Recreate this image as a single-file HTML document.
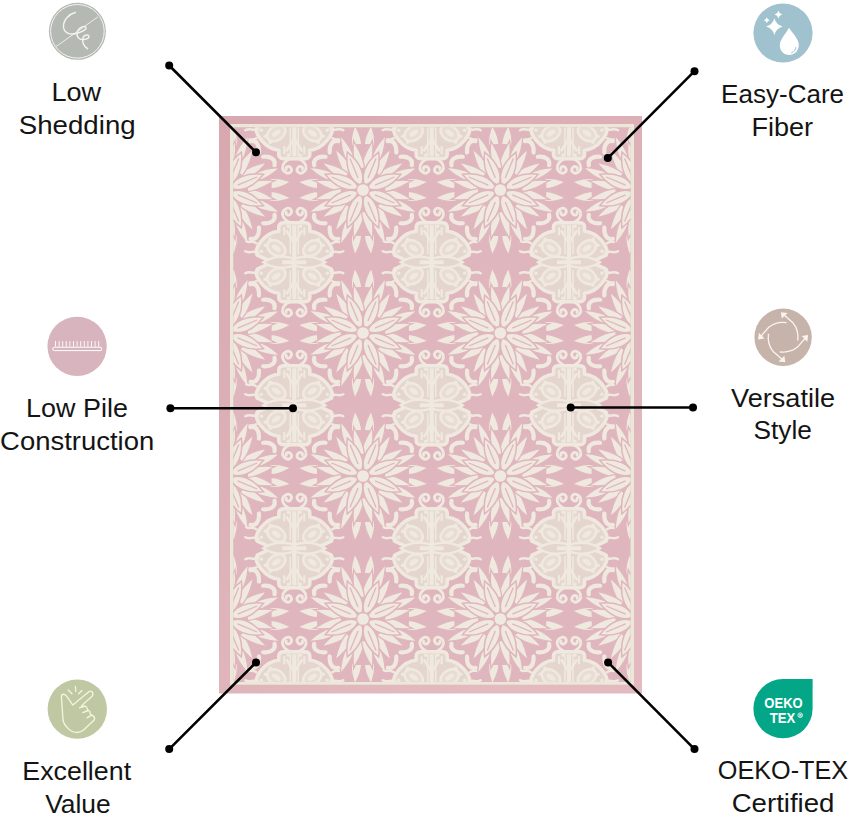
<!DOCTYPE html>
<html><head><meta charset="utf-8"><style>
html,body{margin:0;padding:0;background:#fff;width:850px;height:816px;overflow:hidden}
.rug{position:absolute;left:219px;top:116px}
.ov{position:absolute;left:0;top:0}
text{font-family:"Liberation Sans",sans-serif}
</style></head><body>
<svg class="rug" width="423" height="577.5" viewBox="0 0 423 577.5"><defs><g id="fl"><path d="M-5.00,-45.00 C-5.80,-55.50 -2.20,-61.00 -1.00,-66.00 C0.50,-61.00 5.60,-55.50 5.00,-45.00 Q0,-46.50 -5.00,-45.00Z" transform="rotate(8) scale(1,1)" fill="#efe9df" stroke="#e0b6be" stroke-width="1.2"/><path d="M-4.75,-21.00 C-5.55,-35.50 0.80,-45.00 2.00,-50.00 C3.50,-45.00 5.35,-35.50 4.75,-21.00 Q0,-22.50 -4.75,-21.00Z" transform="rotate(8.5) scale(1,1)" fill="#efe9df" stroke="#e0b6be" stroke-width="1.3"/><path d="M-5.00,-45.00 C-5.80,-55.50 -2.20,-61.00 -1.00,-66.00 C0.50,-61.00 5.60,-55.50 5.00,-45.00 Q0,-46.50 -5.00,-45.00Z" transform="rotate(-8) scale(-1,1)" fill="#efe9df" stroke="#e0b6be" stroke-width="1.2"/><path d="M-4.75,-21.00 C-5.55,-35.50 0.80,-45.00 2.00,-50.00 C3.50,-45.00 5.35,-35.50 4.75,-21.00 Q0,-22.50 -4.75,-21.00Z" transform="rotate(-8.5) scale(-1,1)" fill="#efe9df" stroke="#e0b6be" stroke-width="1.3"/><path d="M-4.25,-35.00 C-5.05,-47.00 -1.20,-54.00 0.00,-59.00 C1.50,-54.00 4.85,-47.00 4.25,-35.00 Q0,-36.50 -4.25,-35.00Z" transform="rotate(22.5)" fill="#efe9df" stroke="#e0b6be" stroke-width="1.2"/><path d="M3,-50 C8,-56 14,-57 17,-52" transform="rotate(45) scale(1,1)" fill="none" stroke="#efe9df" stroke-width="4.2" stroke-linecap="round"/><path d="M-4.75,-21.00 C-5.55,-35.50 0.80,-45.00 2.00,-50.00 C3.50,-45.00 5.35,-35.50 4.75,-21.00 Q0,-22.50 -4.75,-21.00Z" transform="rotate(53.5) scale(1,1)" fill="#efe9df" stroke="#e0b6be" stroke-width="1.3"/><path d="M3,-50 C8,-56 14,-57 17,-52" transform="rotate(45) scale(-1,1)" fill="none" stroke="#efe9df" stroke-width="4.2" stroke-linecap="round"/><path d="M-4.75,-21.00 C-5.55,-35.50 0.80,-45.00 2.00,-50.00 C3.50,-45.00 5.35,-35.50 4.75,-21.00 Q0,-22.50 -4.75,-21.00Z" transform="rotate(36.5) scale(-1,1)" fill="#efe9df" stroke="#e0b6be" stroke-width="1.3"/><path d="M-4.25,-35.00 C-5.05,-47.00 -1.20,-54.00 0.00,-59.00 C1.50,-54.00 4.85,-47.00 4.25,-35.00 Q0,-36.50 -4.25,-35.00Z" transform="rotate(67.5)" fill="#efe9df" stroke="#e0b6be" stroke-width="1.2"/><path d="M-5.00,-45.00 C-5.80,-55.50 -2.20,-61.00 -1.00,-66.00 C0.50,-61.00 5.60,-55.50 5.00,-45.00 Q0,-46.50 -5.00,-45.00Z" transform="rotate(98) scale(1,1)" fill="#efe9df" stroke="#e0b6be" stroke-width="1.2"/><path d="M-4.75,-21.00 C-5.55,-35.50 0.80,-45.00 2.00,-50.00 C3.50,-45.00 5.35,-35.50 4.75,-21.00 Q0,-22.50 -4.75,-21.00Z" transform="rotate(98.5) scale(1,1)" fill="#efe9df" stroke="#e0b6be" stroke-width="1.3"/><path d="M-5.00,-45.00 C-5.80,-55.50 -2.20,-61.00 -1.00,-66.00 C0.50,-61.00 5.60,-55.50 5.00,-45.00 Q0,-46.50 -5.00,-45.00Z" transform="rotate(82) scale(-1,1)" fill="#efe9df" stroke="#e0b6be" stroke-width="1.2"/><path d="M-4.75,-21.00 C-5.55,-35.50 0.80,-45.00 2.00,-50.00 C3.50,-45.00 5.35,-35.50 4.75,-21.00 Q0,-22.50 -4.75,-21.00Z" transform="rotate(81.5) scale(-1,1)" fill="#efe9df" stroke="#e0b6be" stroke-width="1.3"/><path d="M-4.25,-35.00 C-5.05,-47.00 -1.20,-54.00 0.00,-59.00 C1.50,-54.00 4.85,-47.00 4.25,-35.00 Q0,-36.50 -4.25,-35.00Z" transform="rotate(112.5)" fill="#efe9df" stroke="#e0b6be" stroke-width="1.2"/><path d="M3,-50 C8,-56 14,-57 17,-52" transform="rotate(135) scale(1,1)" fill="none" stroke="#efe9df" stroke-width="4.2" stroke-linecap="round"/><path d="M-4.75,-21.00 C-5.55,-35.50 0.80,-45.00 2.00,-50.00 C3.50,-45.00 5.35,-35.50 4.75,-21.00 Q0,-22.50 -4.75,-21.00Z" transform="rotate(143.5) scale(1,1)" fill="#efe9df" stroke="#e0b6be" stroke-width="1.3"/><path d="M3,-50 C8,-56 14,-57 17,-52" transform="rotate(135) scale(-1,1)" fill="none" stroke="#efe9df" stroke-width="4.2" stroke-linecap="round"/><path d="M-4.75,-21.00 C-5.55,-35.50 0.80,-45.00 2.00,-50.00 C3.50,-45.00 5.35,-35.50 4.75,-21.00 Q0,-22.50 -4.75,-21.00Z" transform="rotate(126.5) scale(-1,1)" fill="#efe9df" stroke="#e0b6be" stroke-width="1.3"/><path d="M-4.25,-35.00 C-5.05,-47.00 -1.20,-54.00 0.00,-59.00 C1.50,-54.00 4.85,-47.00 4.25,-35.00 Q0,-36.50 -4.25,-35.00Z" transform="rotate(157.5)" fill="#efe9df" stroke="#e0b6be" stroke-width="1.2"/><path d="M-5.00,-45.00 C-5.80,-55.50 -2.20,-61.00 -1.00,-66.00 C0.50,-61.00 5.60,-55.50 5.00,-45.00 Q0,-46.50 -5.00,-45.00Z" transform="rotate(188) scale(1,1)" fill="#efe9df" stroke="#e0b6be" stroke-width="1.2"/><path d="M-4.75,-21.00 C-5.55,-35.50 0.80,-45.00 2.00,-50.00 C3.50,-45.00 5.35,-35.50 4.75,-21.00 Q0,-22.50 -4.75,-21.00Z" transform="rotate(188.5) scale(1,1)" fill="#efe9df" stroke="#e0b6be" stroke-width="1.3"/><path d="M-5.00,-45.00 C-5.80,-55.50 -2.20,-61.00 -1.00,-66.00 C0.50,-61.00 5.60,-55.50 5.00,-45.00 Q0,-46.50 -5.00,-45.00Z" transform="rotate(172) scale(-1,1)" fill="#efe9df" stroke="#e0b6be" stroke-width="1.2"/><path d="M-4.75,-21.00 C-5.55,-35.50 0.80,-45.00 2.00,-50.00 C3.50,-45.00 5.35,-35.50 4.75,-21.00 Q0,-22.50 -4.75,-21.00Z" transform="rotate(171.5) scale(-1,1)" fill="#efe9df" stroke="#e0b6be" stroke-width="1.3"/><path d="M-4.25,-35.00 C-5.05,-47.00 -1.20,-54.00 0.00,-59.00 C1.50,-54.00 4.85,-47.00 4.25,-35.00 Q0,-36.50 -4.25,-35.00Z" transform="rotate(202.5)" fill="#efe9df" stroke="#e0b6be" stroke-width="1.2"/><path d="M3,-50 C8,-56 14,-57 17,-52" transform="rotate(225) scale(1,1)" fill="none" stroke="#efe9df" stroke-width="4.2" stroke-linecap="round"/><path d="M-4.75,-21.00 C-5.55,-35.50 0.80,-45.00 2.00,-50.00 C3.50,-45.00 5.35,-35.50 4.75,-21.00 Q0,-22.50 -4.75,-21.00Z" transform="rotate(233.5) scale(1,1)" fill="#efe9df" stroke="#e0b6be" stroke-width="1.3"/><path d="M3,-50 C8,-56 14,-57 17,-52" transform="rotate(225) scale(-1,1)" fill="none" stroke="#efe9df" stroke-width="4.2" stroke-linecap="round"/><path d="M-4.75,-21.00 C-5.55,-35.50 0.80,-45.00 2.00,-50.00 C3.50,-45.00 5.35,-35.50 4.75,-21.00 Q0,-22.50 -4.75,-21.00Z" transform="rotate(216.5) scale(-1,1)" fill="#efe9df" stroke="#e0b6be" stroke-width="1.3"/><path d="M-4.25,-35.00 C-5.05,-47.00 -1.20,-54.00 0.00,-59.00 C1.50,-54.00 4.85,-47.00 4.25,-35.00 Q0,-36.50 -4.25,-35.00Z" transform="rotate(247.5)" fill="#efe9df" stroke="#e0b6be" stroke-width="1.2"/><path d="M-5.00,-45.00 C-5.80,-55.50 -2.20,-61.00 -1.00,-66.00 C0.50,-61.00 5.60,-55.50 5.00,-45.00 Q0,-46.50 -5.00,-45.00Z" transform="rotate(278) scale(1,1)" fill="#efe9df" stroke="#e0b6be" stroke-width="1.2"/><path d="M-4.75,-21.00 C-5.55,-35.50 0.80,-45.00 2.00,-50.00 C3.50,-45.00 5.35,-35.50 4.75,-21.00 Q0,-22.50 -4.75,-21.00Z" transform="rotate(278.5) scale(1,1)" fill="#efe9df" stroke="#e0b6be" stroke-width="1.3"/><path d="M-5.00,-45.00 C-5.80,-55.50 -2.20,-61.00 -1.00,-66.00 C0.50,-61.00 5.60,-55.50 5.00,-45.00 Q0,-46.50 -5.00,-45.00Z" transform="rotate(262) scale(-1,1)" fill="#efe9df" stroke="#e0b6be" stroke-width="1.2"/><path d="M-4.75,-21.00 C-5.55,-35.50 0.80,-45.00 2.00,-50.00 C3.50,-45.00 5.35,-35.50 4.75,-21.00 Q0,-22.50 -4.75,-21.00Z" transform="rotate(261.5) scale(-1,1)" fill="#efe9df" stroke="#e0b6be" stroke-width="1.3"/><path d="M-4.25,-35.00 C-5.05,-47.00 -1.20,-54.00 0.00,-59.00 C1.50,-54.00 4.85,-47.00 4.25,-35.00 Q0,-36.50 -4.25,-35.00Z" transform="rotate(292.5)" fill="#efe9df" stroke="#e0b6be" stroke-width="1.2"/><path d="M3,-50 C8,-56 14,-57 17,-52" transform="rotate(315) scale(1,1)" fill="none" stroke="#efe9df" stroke-width="4.2" stroke-linecap="round"/><path d="M-4.75,-21.00 C-5.55,-35.50 0.80,-45.00 2.00,-50.00 C3.50,-45.00 5.35,-35.50 4.75,-21.00 Q0,-22.50 -4.75,-21.00Z" transform="rotate(323.5) scale(1,1)" fill="#efe9df" stroke="#e0b6be" stroke-width="1.3"/><path d="M3,-50 C8,-56 14,-57 17,-52" transform="rotate(315) scale(-1,1)" fill="none" stroke="#efe9df" stroke-width="4.2" stroke-linecap="round"/><path d="M-4.75,-21.00 C-5.55,-35.50 0.80,-45.00 2.00,-50.00 C3.50,-45.00 5.35,-35.50 4.75,-21.00 Q0,-22.50 -4.75,-21.00Z" transform="rotate(306.5) scale(-1,1)" fill="#efe9df" stroke="#e0b6be" stroke-width="1.3"/><path d="M-4.25,-35.00 C-5.05,-47.00 -1.20,-54.00 0.00,-59.00 C1.50,-54.00 4.85,-47.00 4.25,-35.00 Q0,-36.50 -4.25,-35.00Z" transform="rotate(337.5)" fill="#efe9df" stroke="#e0b6be" stroke-width="1.2"/><path d="M0,-5 C8,-12 8.5,-26 0,-41 C-8.5,-26 -8,-12 0,-5Z" transform="rotate(22.5)" fill="#efe9df" stroke="#e0b6be" stroke-width="1.5"/><path d="M0,-13 L0,-34" transform="rotate(22.5)" stroke="#e0b6be" stroke-width="1.3"/><path d="M0,-5 C8,-12 8.5,-26 0,-41 C-8.5,-26 -8,-12 0,-5Z" transform="rotate(67.5)" fill="#efe9df" stroke="#e0b6be" stroke-width="1.5"/><path d="M0,-13 L0,-34" transform="rotate(67.5)" stroke="#e0b6be" stroke-width="1.3"/><path d="M0,-5 C8,-12 8.5,-26 0,-41 C-8.5,-26 -8,-12 0,-5Z" transform="rotate(112.5)" fill="#efe9df" stroke="#e0b6be" stroke-width="1.5"/><path d="M0,-13 L0,-34" transform="rotate(112.5)" stroke="#e0b6be" stroke-width="1.3"/><path d="M0,-5 C8,-12 8.5,-26 0,-41 C-8.5,-26 -8,-12 0,-5Z" transform="rotate(157.5)" fill="#efe9df" stroke="#e0b6be" stroke-width="1.5"/><path d="M0,-13 L0,-34" transform="rotate(157.5)" stroke="#e0b6be" stroke-width="1.3"/><path d="M0,-5 C8,-12 8.5,-26 0,-41 C-8.5,-26 -8,-12 0,-5Z" transform="rotate(202.5)" fill="#efe9df" stroke="#e0b6be" stroke-width="1.5"/><path d="M0,-13 L0,-34" transform="rotate(202.5)" stroke="#e0b6be" stroke-width="1.3"/><path d="M0,-5 C8,-12 8.5,-26 0,-41 C-8.5,-26 -8,-12 0,-5Z" transform="rotate(247.5)" fill="#efe9df" stroke="#e0b6be" stroke-width="1.5"/><path d="M0,-13 L0,-34" transform="rotate(247.5)" stroke="#e0b6be" stroke-width="1.3"/><path d="M0,-5 C8,-12 8.5,-26 0,-41 C-8.5,-26 -8,-12 0,-5Z" transform="rotate(292.5)" fill="#efe9df" stroke="#e0b6be" stroke-width="1.5"/><path d="M0,-13 L0,-34" transform="rotate(292.5)" stroke="#e0b6be" stroke-width="1.3"/><path d="M0,-5 C8,-12 8.5,-26 0,-41 C-8.5,-26 -8,-12 0,-5Z" transform="rotate(337.5)" fill="#efe9df" stroke="#e0b6be" stroke-width="1.5"/><path d="M0,-13 L0,-34" transform="rotate(337.5)" stroke="#e0b6be" stroke-width="1.3"/><circle r="6.5" fill="#efe9df" stroke="#e0b6be" stroke-width="1.3"/></g><g id="or"><path d="M0,-39.5 L11,-39.5 C14,-39.5 15.5,-37.5 15.5,-35 L15.5,-31 C22,-30.5 28,-27 33,-21 C37,-16 39.5,-11 37,-7 L22,0 L37,7 C39.5,11 37,16 33,21 C28,27 22,30.5 15.5,31 L15.5,35 C15.5,37.5 14,39.5 11,39.5 L-11,39.5 C-14,39.5 -15.5,37.5 -15.5,35 L-15.5,31 C-22,30.5 -28,27 -33,21 C-37,16 -39.5,11 -37,7 L-22,0 L-37,-7 C-39.5,-11 -37,-16 -33,-21 C-28,-27 -22,-30.5 -15.5,-31 L-15.5,-35 C-15.5,-37.5 -14,-39.5 -11,-39.5 Z" fill="#e4d5cf" stroke="#efe9df" stroke-width="3.6" stroke-linejoin="round"/><path d="M-10,-35 L-10,-27 M10,-35 L10,-27 M-10,35 L-10,27 M10,35 L10,27" stroke="#efe9df" stroke-width="2.2"/><ellipse cx="-18" cy="-14" rx="10" ry="7" transform="rotate(35 -18 -14)" fill="#e8dcd5" stroke="#efe9df" stroke-width="2.6"/><ellipse cx="-18" cy="-14" rx="5" ry="2.6" transform="rotate(35 -18 -14)" fill="#efe9df"/><ellipse cx="18" cy="-14" rx="10" ry="7" transform="rotate(-35 18 -14)" fill="#e8dcd5" stroke="#efe9df" stroke-width="2.6"/><ellipse cx="18" cy="-14" rx="5" ry="2.6" transform="rotate(-35 18 -14)" fill="#efe9df"/><ellipse cx="-18" cy="14" rx="10" ry="7" transform="rotate(-35 -18 14)" fill="#e8dcd5" stroke="#efe9df" stroke-width="2.6"/><ellipse cx="-18" cy="14" rx="5" ry="2.6" transform="rotate(-35 -18 14)" fill="#efe9df"/><ellipse cx="18" cy="14" rx="10" ry="7" transform="rotate(35 18 14)" fill="#e8dcd5" stroke="#efe9df" stroke-width="2.6"/><ellipse cx="18" cy="14" rx="5" ry="2.6" transform="rotate(35 18 14)" fill="#efe9df"/><path d="M-31,0 C-20,-7 -8,-6 0,-3.5 C8,-6 20,-7 31,0 C20,7 8,6 0,3.5 C-8,6 -20,7 -31,0Z" fill="#e4d5cf" stroke="#efe9df" stroke-width="2.4"/><path d="M-12,0 L12,0" stroke="#efe9df" stroke-width="4"/><path d="M0,-37 L0,37" stroke="#efe9df" stroke-width="4.2"/><path d="M-4,-37 L-4,-8 M4,-37 L4,-8 M-4,37 L-4,8 M4,37 L4,8" stroke="#efe9df" stroke-width="1.6"/><path d="M-8,-32 L0,-19 L8,-32 M-8,32 L0,19 L8,32" fill="none" stroke="#efe9df" stroke-width="2.6"/><circle cx="-29" cy="-17" r="1.8" fill="#efe9df"/><circle cx="-24" cy="-23" r="1.8" fill="#efe9df"/><circle cx="-33" cy="-11" r="1.8" fill="#efe9df"/><circle cx="29" cy="-17" r="1.8" fill="#efe9df"/><circle cx="24" cy="-23" r="1.8" fill="#efe9df"/><circle cx="33" cy="-11" r="1.8" fill="#efe9df"/><circle cx="-29" cy="17" r="1.8" fill="#efe9df"/><circle cx="-24" cy="23" r="1.8" fill="#efe9df"/><circle cx="-33" cy="11" r="1.8" fill="#efe9df"/><circle cx="29" cy="17" r="1.8" fill="#efe9df"/><circle cx="24" cy="23" r="1.8" fill="#efe9df"/><circle cx="33" cy="11" r="1.8" fill="#efe9df"/><circle cx="-6" cy="-36" r="1.8" fill="#efe9df"/><circle cx="6" cy="-36" r="1.8" fill="#efe9df"/><circle cx="-6" cy="36" r="1.8" fill="#efe9df"/><circle cx="6" cy="36" r="1.8" fill="#efe9df"/><path d="M-5,-40 C-12,-43 -14,-50 -9,-53 C-4,-56 -1,-51 -4,-48 C-6,-46 -9,-48 -8,-50 M5,-40 C12,-43 14,-50 9,-53 C4,-56 1,-51 4,-48 C6,-46 9,-48 8,-50" transform="rotate(0)" stroke="#efe9df" stroke-width="2.8" fill="none" stroke-linecap="round"/><path d="M-5,-40 C-12,-43 -14,-50 -9,-53 C-4,-56 -1,-51 -4,-48 C-6,-46 -9,-48 -8,-50 M5,-40 C12,-43 14,-50 9,-53 C4,-56 1,-51 4,-48 C6,-46 9,-48 8,-50" transform="rotate(180)" stroke="#efe9df" stroke-width="2.8" fill="none" stroke-linecap="round"/><path d="M-36,-9 C-40,-13 -44,-8 -49,-11 M-36,9 C-40,13 -44,8 -49,11 M-38,-19 C-42,-22 -45,-19 -48,-21 M-38,19 C-42,22 -45,19 -48,21" transform="rotate(0)" stroke="#efe9df" stroke-width="2.5" fill="none" stroke-linecap="round"/><path d="M-36,-9 C-40,-13 -44,-8 -49,-11 M-36,9 C-40,13 -44,8 -49,11 M-38,-19 C-42,-22 -45,-19 -48,-21 M-38,19 C-42,22 -45,19 -48,21" transform="rotate(180)" stroke="#efe9df" stroke-width="2.5" fill="none" stroke-linecap="round"/></g><linearGradient id="bg" x1="0" y1="0" x2="0.6" y2="1"><stop offset="0" stop-color="#d8a8b0"/><stop offset="1" stop-color="#e2bac0"/></linearGradient><clipPath id="fc"><rect x="14.3" y="11.3" width="397.2" height="554.7"/></clipPath><filter id="soft" x="0" y="0" width="1" height="1"><feGaussianBlur stdDeviation="0.6"/></filter></defs><g filter="url(#soft)"><rect width="423" height="577.5" fill="url(#bg)"/><rect x="11" y="8" width="404" height="560.7" fill="#ebe8da"/><rect x="14.3" y="11.3" width="397.2" height="554.7" fill="#e0b6be"/><g clip-path="url(#fc)"><use href="#fl" x="-130.6" y="-69.0"/><use href="#or" x="-62.0" y="3.2"/><use href="#fl" x="6.7" y="-69.0"/><use href="#or" x="75.3" y="3.2"/><use href="#fl" x="144.0" y="-69.0"/><use href="#or" x="212.7" y="3.2"/><use href="#fl" x="281.3" y="-69.0"/><use href="#or" x="350.0" y="3.2"/><use href="#fl" x="418.6" y="-69.0"/><use href="#or" x="487.2" y="3.2"/><use href="#fl" x="555.9" y="-69.0"/><use href="#or" x="624.6" y="3.2"/><use href="#fl" x="-130.6" y="74.0"/><use href="#or" x="-62.0" y="146.2"/><use href="#fl" x="6.7" y="74.0"/><use href="#or" x="75.3" y="146.2"/><use href="#fl" x="144.0" y="74.0"/><use href="#or" x="212.7" y="146.2"/><use href="#fl" x="281.3" y="74.0"/><use href="#or" x="350.0" y="146.2"/><use href="#fl" x="418.6" y="74.0"/><use href="#or" x="487.2" y="146.2"/><use href="#fl" x="555.9" y="74.0"/><use href="#or" x="624.6" y="146.2"/><use href="#fl" x="-130.6" y="217.0"/><use href="#or" x="-62.0" y="289.2"/><use href="#fl" x="6.7" y="217.0"/><use href="#or" x="75.3" y="289.2"/><use href="#fl" x="144.0" y="217.0"/><use href="#or" x="212.7" y="289.2"/><use href="#fl" x="281.3" y="217.0"/><use href="#or" x="350.0" y="289.2"/><use href="#fl" x="418.6" y="217.0"/><use href="#or" x="487.2" y="289.2"/><use href="#fl" x="555.9" y="217.0"/><use href="#or" x="624.6" y="289.2"/><use href="#fl" x="-130.6" y="360.0"/><use href="#or" x="-62.0" y="432.2"/><use href="#fl" x="6.7" y="360.0"/><use href="#or" x="75.3" y="432.2"/><use href="#fl" x="144.0" y="360.0"/><use href="#or" x="212.7" y="432.2"/><use href="#fl" x="281.3" y="360.0"/><use href="#or" x="350.0" y="432.2"/><use href="#fl" x="418.6" y="360.0"/><use href="#or" x="487.2" y="432.2"/><use href="#fl" x="555.9" y="360.0"/><use href="#or" x="624.6" y="432.2"/><use href="#fl" x="-130.6" y="503.0"/><use href="#or" x="-62.0" y="575.2"/><use href="#fl" x="6.7" y="503.0"/><use href="#or" x="75.3" y="575.2"/><use href="#fl" x="144.0" y="503.0"/><use href="#or" x="212.7" y="575.2"/><use href="#fl" x="281.3" y="503.0"/><use href="#or" x="350.0" y="575.2"/><use href="#fl" x="418.6" y="503.0"/><use href="#or" x="487.2" y="575.2"/><use href="#fl" x="555.9" y="503.0"/><use href="#or" x="624.6" y="575.2"/><use href="#fl" x="-130.6" y="646.0"/><use href="#or" x="-62.0" y="718.2"/><use href="#fl" x="6.7" y="646.0"/><use href="#or" x="75.3" y="718.2"/><use href="#fl" x="144.0" y="646.0"/><use href="#or" x="212.7" y="718.2"/><use href="#fl" x="281.3" y="646.0"/><use href="#or" x="350.0" y="718.2"/><use href="#fl" x="418.6" y="646.0"/><use href="#or" x="487.2" y="718.2"/><use href="#fl" x="555.9" y="646.0"/><use href="#or" x="624.6" y="718.2"/><use href="#fl" x="-130.6" y="789.0"/><use href="#or" x="-62.0" y="861.2"/><use href="#fl" x="6.7" y="789.0"/><use href="#or" x="75.3" y="861.2"/><use href="#fl" x="144.0" y="789.0"/><use href="#or" x="212.7" y="861.2"/><use href="#fl" x="281.3" y="789.0"/><use href="#or" x="350.0" y="861.2"/><use href="#fl" x="418.6" y="789.0"/><use href="#or" x="487.2" y="861.2"/><use href="#fl" x="555.9" y="789.0"/><use href="#or" x="624.6" y="861.2"/></g></g></svg>
<svg class="ov" width="850" height="816" viewBox="0 0 850 816">
<circle cx="77.4" cy="31.3" r="28.5" fill="#b5b9b4"/>
<circle cx="77.4" cy="31.3" r="26.8" fill="none" stroke="#f4f4f0" stroke-width="1"/>
<path d="M56,46.6 L97.9,16.9" stroke="#f4f4f0" stroke-width="0.9"/>
<path d="M75.8,12.3 C69,14 63,20 63.5,27 C64,33 70,35 76,33.5 C82,32 88,29 85.6,27 C83,25 77,29 77,34 C77,38 80,40 84,39.5 C90,39 90,35 87,35 C83,35 82,39 83,43 C84,46 86,48 88,49" fill="none" stroke="#f4f4f0" stroke-width="1.4"/>
<circle cx="783" cy="33" r="29.6" fill="#a0c1ce"/>
<path d="M789,27.8 C793,34 799,39 798.8,45.5 C798.5,51.5 794,55 789.3,55 C784,55 779.8,51 779.8,45.5 C779.8,39 786,34 789,27.8Z" fill="#fff"/>
<path d="M795.8,47.5 C795.6,50 794,52 791.5,52.8" fill="none" stroke="#a0c1ce" stroke-width="0.9" stroke-linecap="round"/>
<path d="M774.4,18.3 Q776.226,24.774 782.6999999999999,26.6 Q776.226,28.426000000000002 774.4,34.900000000000006 Q772.574,28.426000000000002 766.1,26.6 Q772.574,24.774 774.4,18.3Z" fill="#fff"/>
<path d="M778.4,10.8 Q779.236,13.764 782.1999999999999,14.6 Q779.236,15.436 778.4,18.4 Q777.564,15.436 774.6,14.6 Q777.564,13.764 778.4,10.8Z" fill="#fff"/>
<path d="M766.8,17.2 Q767.4599999999999,19.54 769.8,20.2 Q767.4599999999999,20.86 766.8,23.2 Q766.14,20.86 763.8,20.2 Q766.14,19.54 766.8,17.2Z" fill="#fff"/>
<circle cx="77.1" cy="346.3" r="29.65" fill="#d7b4be"/>
<rect x="52.7" y="347.2" width="49" height="3.4" rx="1.7" fill="none" stroke="#fff" stroke-width="1"/>
<path d="M55.5,341 L55.5,346.6 M59.1,341 L59.1,346.6 M62.7,341 L62.7,346.6 M66.3,341 L66.3,346.6 M69.9,341 L69.9,346.6 M73.5,341 L73.5,346.6 M77.1,341 L77.1,346.6 M80.7,341 L80.7,346.6 M84.3,341 L84.3,346.6 M87.9,341 L87.9,346.6 M91.5,341 L91.5,346.6 M95.1,341 L95.1,346.6 M98.7,341 L98.7,346.6 " stroke="#fff" stroke-width="0.9"/>
<circle cx="783.1" cy="337.2" r="28.7" fill="#c6b4aa"/>
<g transform="translate(783.1,337.2) rotate(0)"><path d="M3.4,-14.6 C-3,-15.5 -10,-13.5 -14.4,-9.9 L-23,0" fill="none" stroke="#fbf3ee" stroke-width="1.3"/><path d="M-25,2.2 L-24.2,-4.5 L-18.6,1.3Z" fill="#fbf3ee"/></g>
<g transform="translate(783.1,337.2) rotate(-90)"><path d="M3.4,-14.6 C-3,-15.5 -10,-13.5 -14.4,-9.9 L-23,0" fill="none" stroke="#fbf3ee" stroke-width="1.3"/><path d="M-25,2.2 L-24.2,-4.5 L-18.6,1.3Z" fill="#fbf3ee"/></g>
<g transform="translate(783.1,337.2) rotate(-180)"><path d="M3.4,-14.6 C-3,-15.5 -10,-13.5 -14.4,-9.9 L-23,0" fill="none" stroke="#fbf3ee" stroke-width="1.3"/><path d="M-25,2.2 L-24.2,-4.5 L-18.6,1.3Z" fill="#fbf3ee"/></g>
<g transform="translate(783.1,337.2) rotate(-270)"><path d="M3.4,-14.6 C-3,-15.5 -10,-13.5 -14.4,-9.9 L-23,0" fill="none" stroke="#fbf3ee" stroke-width="1.3"/><path d="M-25,2.2 L-24.2,-4.5 L-18.6,1.3Z" fill="#fbf3ee"/></g>
<circle cx="77.3" cy="709.1" r="29.7" fill="#c0c7a3"/>
<path d="M63.05,720.2 C62.5,712 62,704 61.5,698 C61,695.5 62,694.2 63.3,694.2 C64.5,694.2 65.5,694.8 66.2,695.6 L72.9,705.1 L88.5,691.9 C89.5,691.1 91,691 91.9,691.7 C92.9,692.6 93,694.8 92.2,696.2 L84.2,703.2 L81.4,706.1 L85.2,706.2 C86.5,706.6 87.3,708 87.6,709.8 L88.8,710.6 C89.8,711.5 90.3,712.8 90.2,714 L92.8,715.6 C94.4,716.8 95,718.2 94.4,719.8 L84.2,729.6 C82,731.5 80,732.4 77.5,732.5 C74,732.5 70.5,731 68.2,728.6 C65.5,726 63.5,723.5 63.05,720.2 Z M79.5,707.8 L85.2,706.2 M82.8,712.6 L88.2,710.5 M87,717.8 L91.5,715.2" fill="none" stroke="#f3f6d6" stroke-width="1.35" stroke-linejoin="round" stroke-linecap="round"/>
<path d="M75.3,686.3 L75.8,691.5 M68.2,690 L72,693.8 M82,690.5 L78.6,693.8" stroke="#f3f6d6" stroke-width="1.3" stroke-linecap="round"/>
<path d="M812.6,679.1 L812.6,708.7 A29.6,29.6 0 1 1 783,679.1 Z" fill="#04a688"/>
<text x="783.5" y="708.2" font-weight="bold" font-size="14.2" fill="#fff" text-anchor="middle" textLength="38.3" lengthAdjust="spacingAndGlyphs">OEKO</text>
<text x="782.5" y="722.8" font-weight="bold" font-size="14.2" fill="#fff" text-anchor="middle" textLength="25.6" lengthAdjust="spacingAndGlyphs">TEX</text>
<circle cx="800.2" cy="715.2" r="2.3" fill="none" stroke="#fff" stroke-width="0.8"/>
<text x="800.2" y="716.6" font-weight="bold" font-size="3.6" fill="#fff" text-anchor="middle">R</text>
<g font-size="25.0" fill="#141414">
<text x="70.40" y="101.30" transform="scale(1.0834,1)" text-anchor="middle">Low</text>
<text x="69.78" y="133.90" transform="scale(1.1066,1)" text-anchor="middle">Shedding</text>
<text x="751.27" y="103.30" transform="scale(1.0417,1)" text-anchor="middle">Easy-Care</text>
<text x="722.21" y="136.30" transform="scale(1.0831,1)" text-anchor="middle">Fiber</text>
<text x="71.47" y="416.90" transform="scale(1.0773,1)" text-anchor="middle">Low Pile</text>
<text x="70.28" y="449.80" transform="scale(1.0982,1)" text-anchor="middle">Construction</text>
<text x="721.96" y="406.60" transform="scale(1.0847,1)" text-anchor="middle">Versatile</text>
<text x="744.27" y="439.20" transform="scale(1.0516,1)" text-anchor="middle">Style</text>
<text x="71.50" y="779.60" transform="scale(1.0730,1)" text-anchor="middle">Excellent</text>
<text x="73.75" y="812.60" transform="scale(1.0568,1)" text-anchor="middle">Value</text>
<text x="776.00" y="779.30" transform="scale(1.0090,1)" text-anchor="middle">OEKO-TEX</text>
<text x="708.86" y="811.80" transform="scale(1.1047,1)" text-anchor="middle">Certified</text>
</g>
<line x1="169.2" y1="65.5" x2="256" y2="152.3" stroke="#000" stroke-width="2.6"/>
<circle cx="169.2" cy="65.5" r="4" fill="#000"/><circle cx="256" cy="152.3" r="4" fill="#000"/>
<line x1="694.5" y1="71.2" x2="607.8" y2="158.1" stroke="#000" stroke-width="2.6"/>
<circle cx="694.5" cy="71.2" r="4" fill="#000"/><circle cx="607.8" cy="158.1" r="4" fill="#000"/>
<line x1="170.4" y1="408.3" x2="293" y2="408.3" stroke="#000" stroke-width="2.6"/>
<circle cx="170.4" cy="408.3" r="4" fill="#000"/><circle cx="293" cy="408.3" r="4" fill="#000"/>
<line x1="693" y1="407.5" x2="570.7" y2="407.5" stroke="#000" stroke-width="2.6"/>
<circle cx="693" cy="407.5" r="4" fill="#000"/><circle cx="570.7" cy="407.5" r="4" fill="#000"/>
<line x1="169.2" y1="749.1" x2="256" y2="662.4" stroke="#000" stroke-width="2.6"/>
<circle cx="169.2" cy="749.1" r="4" fill="#000"/><circle cx="256" cy="662.4" r="4" fill="#000"/>
<line x1="694.5" y1="749.1" x2="608.1" y2="662.4" stroke="#000" stroke-width="2.6"/>
<circle cx="694.5" cy="749.1" r="4" fill="#000"/><circle cx="608.1" cy="662.4" r="4" fill="#000"/>
</svg>
</body></html>
